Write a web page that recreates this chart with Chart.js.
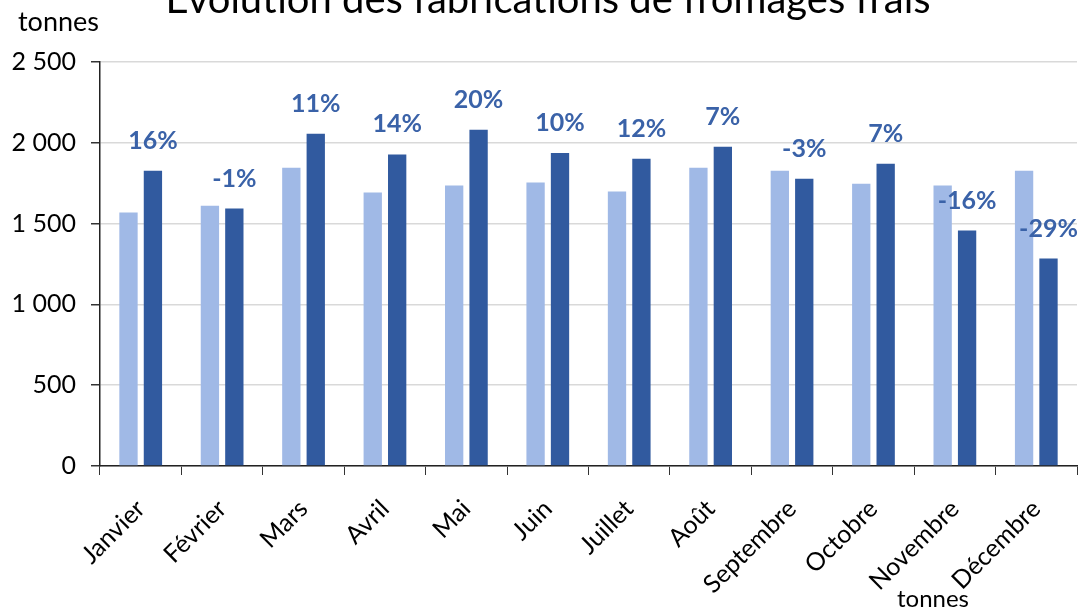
<!DOCTYPE html>
<html lang="fr">
<head>
  <meta charset="UTF-8" />
  <title>Evolution des fabrications de fromages frais</title>
  <script src="https://cdn.jsdelivr.net/npm/chart.js"></script>
  <style>
    html, body { margin: 0; padding: 0; background: #fff; }
    #wrap { width: 1079px; height: 609px; position: relative; }
  </style>
</head>
<body>
  <div id="wrap"><canvas id="chart"></canvas></div>

  <script>
    // données (tonnes)
    const mois = ['Janvier', 'Février', 'Mars', 'Avril', 'Mai', 'Juin',
                  'Juillet', 'Août', 'Septembre', 'Octobre', 'Novembre', 'Décembre'];
    const anneePrec = [1568, 1611, 1846, 1692, 1735, 1755, 1698, 1846, 1827, 1747, 1735, 1827];
    const anneeCour = [1827, 1593, 2056, 1928, 2080, 1937, 1901, 1975, 1778, 1870, 1457, 1284];
    const variations = ['16%', '-1%', '11%', '14%', '20%', '10%', '12%', '7%', '-3%', '7%', '-16%', '-29%'];
    const yTicks = [0, 500, 1000, 1500, 2000, 2500];

    const FONT = 'Lato, "Open Sans", sans-serif';

    // étiquettes de variation au-dessus des barres foncées + textes libres
    const textPlugin = {
      id: 'texts',
      afterDatasetsDraw(chart) {
        const ctx = chart.ctx;
        const meta = chart.getDatasetMeta(1);
        ctx.save();
        ctx.fillStyle = '#3a62a8';
        ctx.font = 'bold 25px ' + FONT;
        ctx.textAlign = 'center';
        ctx.textBaseline = 'middle';
        meta.data.forEach((bar, i) => {
          ctx.fillText(variations[i], bar.x, bar.y - 30);
        });
        ctx.restore();
      },
      afterDraw(chart) {
        const ctx = chart.ctx;
        ctx.save();
        ctx.fillStyle = '#000';
        ctx.textBaseline = 'alphabetic';
        // titre (coupé en haut)
        ctx.textAlign = 'center';
        ctx.font = '40px ' + FONT;
        ctx.fillText('Evolution des fabrications de fromages frais', 548, 13);
        ctx.textAlign = 'left';
        ctx.font = '27px ' + FONT;
        ctx.fillText('tonnes', 18, 31);
        ctx.font = '24px ' + FONT;
        ctx.fillText('tonnes', 897, 607);
        ctx.restore();
      }
    };

    new Chart(document.getElementById('chart'), {
      type: 'bar',
      data: {
        labels: mois,
        datasets: [
          {
            label: 'Année précédente',
            data: anneePrec,
            backgroundColor: '#a0b9e6',
            categoryPercentage: 0.6,
            barPercentage: 0.75
          },
          {
            label: 'Année en cours',
            data: anneeCour,
            backgroundColor: '#315a9f',
            categoryPercentage: 0.6,
            barPercentage: 0.75
          }
        ]
      },
      options: {
        responsive: true,
        maintainAspectRatio: false,
        animation: false,
        layout: { padding: { top: 62, right: 2, left: 0, bottom: 0 } },
        plugins: {
          legend: { display: false },
          title: { display: false },
          tooltip: { enabled: false }
        },
        scales: {
          x: {
            grid: {
              display: true,
              drawOnChartArea: false,
              drawTicks: true,
              tickLength: 9,
              tickColor: '#333',
              offset: true
            },
            border: { color: '#222', width: 1.5 },
            ticks: {
              color: '#000',
              font: { family: FONT, size: 25 },
              maxRotation: 45,
              minRotation: 45,
              padding: 19
            },
            afterFit(scale) { scale.height = 143; }
          },
          y: {
            min: 0,
            max: 2500,
            afterBuildTicks(scale) {
              scale.ticks = yTicks.map(v => ({ value: v }));
            },
            grid: {
              color: '#d9d9d9',
              lineWidth: 1.5,
              tickColor: '#333',
              tickLength: 9
            },
            border: { color: '#222', width: 1.5 },
            ticks: {
              color: '#000',
              font: { family: FONT, size: 25 },
              padding: 15,
              callback: v => String(v).replace(/\B(?=(\d{3})+(?!\d))/g, ' ')
            },
            afterFit(scale) { scale.width = 100; }
          }
        }
      },
      plugins: [textPlugin]
    });
  </script>
</body>
</html>
